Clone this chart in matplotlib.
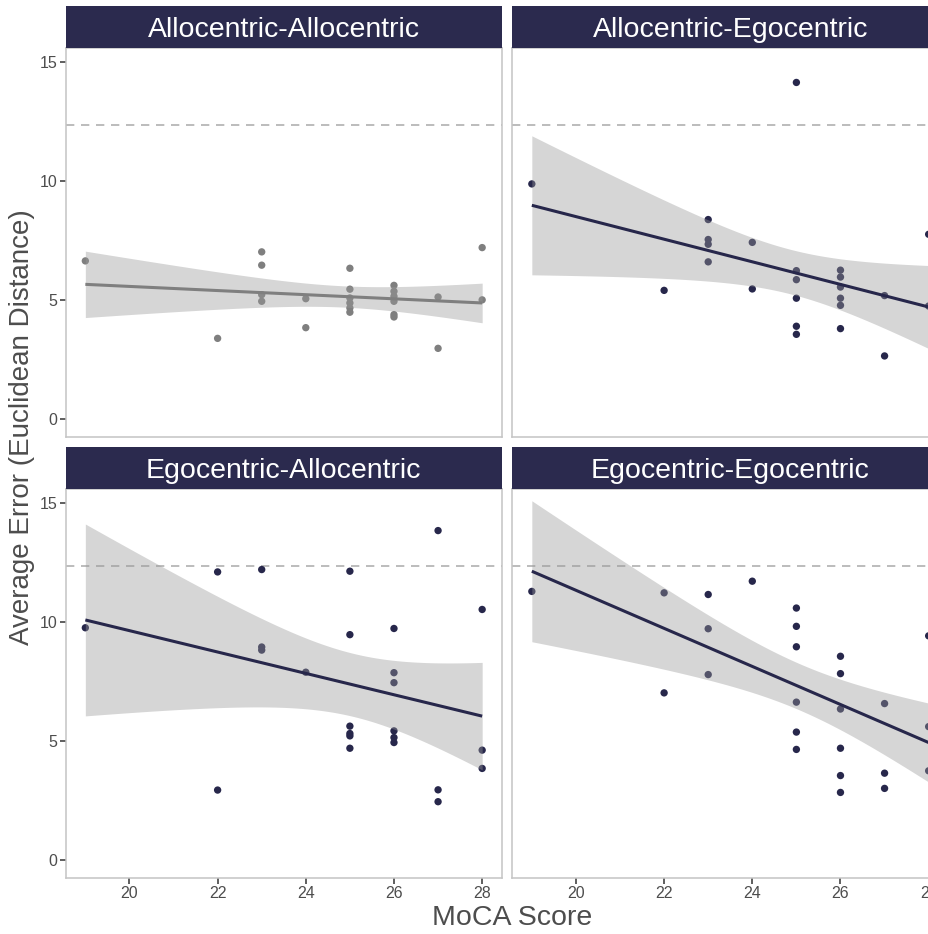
import numpy as np
import matplotlib
matplotlib.use("Agg")
import matplotlib.pyplot as plt

# ---------------- data ----------------
panel_titles = ["Allocentric-Allocentric", "Allocentric-Egocentric",
                "Egocentric-Allocentric", "Egocentric-Egocentric"]

moca_aa = [19, 22, 23, 23, 23, 23, 24, 24, 25, 25, 25, 25, 25, 25,
           26, 26, 26, 26, 26, 26, 27, 27, 28, 28]
err_aa = [6.64, 3.38, 7.02, 6.46, 5.22, 4.94, 5.05, 3.83, 6.33, 5.45, 5.08, 4.87, 4.66, 4.48,
          5.61, 5.36, 5.15, 4.94, 4.38, 4.28, 5.12, 2.96, 7.20, 5.00]

moca_ae = [19, 22, 23, 23, 23, 23, 24, 24, 25, 25, 25, 25, 25, 25,
           26, 26, 26, 26, 26, 26, 27, 27, 28, 28]
err_ae = [9.88, 5.40, 8.38, 7.54, 7.34, 6.60, 7.42, 5.46, 14.15, 6.23, 5.85, 5.07, 3.89, 3.55,
          6.25, 5.96, 5.54, 5.07, 4.77, 3.79, 5.18, 2.64, 7.76, 4.74]

moca_ea = [19, 22, 22, 23, 23, 23, 24, 25, 25, 25, 25, 25, 25,
           26, 26, 26, 26, 26, 26, 27, 27, 27, 28, 28, 28]
err_ea = [9.76, 12.11, 2.93, 12.21, 8.95, 8.82, 7.89, 12.14, 9.47, 5.62, 5.31, 5.21, 4.69,
          9.73, 7.87, 7.45, 5.42, 5.14, 4.93, 13.85, 2.94, 2.44, 10.53, 4.61, 3.84]

moca_ee = [19, 22, 22, 23, 23, 23, 24, 25, 25, 25, 25, 25, 25,
           26, 26, 26, 26, 26, 26, 27, 27, 27, 28, 28, 28]
err_ee = [11.29, 11.23, 7.02, 11.16, 9.72, 7.79, 11.72, 10.59, 9.82, 8.96, 6.63, 5.37, 4.64,
          8.56, 7.83, 6.34, 4.69, 3.54, 2.83, 6.57, 3.64, 3.00, 9.42, 5.60, 3.74]

reference_line = 12.35
x_ticks = [20, 22, 24, 26, 28]
y_ticks = [0, 5, 10, 15]

panels = [(moca_aa, err_aa), (moca_ae, err_ae), (moca_ea, err_ea), (moca_ee, err_ee)]
point_colors = ["#7f7f7f", "#27274b", "#27274b", "#27274b"]

# ---------------- style ----------------
W, H = 929, 934
plt.rcParams['font.family'] = ['Liberation Sans', 'DejaVu Sans']
fig = plt.figure(figsize=(W / 100, H / 100), dpi=100)

strip_color = "#2b2a4e"
text_grey = "#4d4d4d"
border_grey = "#c4c4c4"

panel_w = 436.5
lefts = [65.5, 512.0]
tops = [48.0, 489.0]
panel_h = 388.5
strip_h = 42.0

xlim = (18.55, 28.45)
ylim = (-0.75, 15.6)


def lm_band(x, y, xs):
    x = np.asarray(x, float)
    y = np.asarray(y, float)
    n = len(x)
    b, a = np.polyfit(x, y, 1)
    resid = y - (a + b * x)
    s = np.sqrt(np.sum(resid ** 2) / (n - 2))
    sxx = np.sum((x - x.mean()) ** 2)
    se = s * np.sqrt(1.0 / n + (xs - x.mean()) ** 2 / sxx)
    tq = {22: 2.074, 23: 2.069, 24: 2.064}.get(n - 2, 2.07)
    fit = a + b * xs
    return fit, fit - tq * se, fit + tq * se


for i, ((xv, yv), title) in enumerate(zip(panels, panel_titles)):
    r, c = divmod(i, 2)
    l = lefts[c]
    t = tops[r]
    ax = fig.add_axes([l / W, 1 - (t + panel_h) / H, panel_w / W, panel_h / H])
    ax.set_xlim(*xlim)
    ax.set_ylim(*ylim)
    for sp in ax.spines.values():
        sp.set_color(border_grey)
        sp.set_linewidth(1.1)
    ax.axhline(reference_line, color="#b0b0b0", lw=1.2, ls=(0, (5, 4)), zorder=1)
    ax.scatter(xv, yv, s=28, color=point_colors[i], edgecolors="none", zorder=2)
    xs = np.linspace(min(xv), max(xv), 80)
    fit, lo, hi = lm_band(xv, yv, xs)
    ax.fill_between(xs, lo, hi, color="#999999", alpha=0.4, lw=0, zorder=3)
    ax.plot(xs, fit, color=point_colors[i], lw=2.2, zorder=4, solid_capstyle="butt")

    ax.set_xticks(x_ticks)
    ax.set_yticks(y_ticks)
    ax.tick_params(axis="both", length=4, width=1.1, color="#333333",
                   labelsize=11.5, labelcolor=text_grey, pad=2)
    if r == 0:
        ax.tick_params(axis="x", bottom=False, labelbottom=False)
    if c == 1:
        ax.tick_params(axis="y", left=False, labelleft=False)

    sax = fig.add_axes([l / W, 1 - (t) / H, panel_w / W, strip_h / H])
    sax.set_xticks([]); sax.set_yticks([])
    sax.set_facecolor(strip_color)
    for sp in sax.spines.values():
        sp.set_visible(False)
    sax.text(0.5, 0.44, title, color="white", fontsize=20.5,
             ha="center", va="center", transform=sax.transAxes)

fig.text(512.5 / W, 1 - 918 / H, "MoCA Score", fontsize=20.5, color=text_grey,
         ha="center", va="center")
fig.text(22 / W, 1 - 427 / H, "Average Error (Euclidean Distance)", fontsize=20,
         color=text_grey, ha="center", va="center", rotation=90)

fig.savefig("out.png", dpi=100)
